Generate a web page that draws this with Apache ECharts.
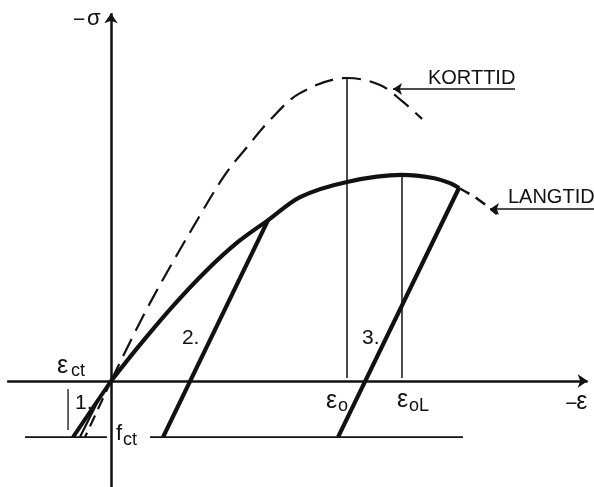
<!DOCTYPE html>
<html>
<head>
<meta charset="utf-8">
<script src="https://cdn.jsdelivr.net/npm/echarts@6/dist/echarts.min.js"></script>
<style>
  html, body { margin: 0; padding: 0; background: #fff; }
  #chart { width: 594px; height: 487px; }
</style>
</head>
<body>
<div id="chart"></div>
<script>
// Concrete stress-strain diagram: short-term (KORTTID) and long-term (LANGTID)
// curves, strain in per mille, stress relative to the short-term peak.

const EPS_O = 2.0;      // strain at short-term peak
const EPS_OL = 2.466;   // strain at long-term peak
const F_CT = -0.185;    // tensile strength level

// short-term curve (dashed)
const shortTension = [[0, 0], [-0.22, -0.185]];
const shortTerm = [[0, 0], [0.33, 0.257], [0.78, 0.564], [0.983, 0.69], [1.153, 0.772],
  [1.347, 0.861], [1.602, 0.95], [2.0, 1.0], [2.28, 0.977], [2.475, 0.921], [2.636, 0.865]];

// long-term curve (solid) and its dashed continuation
const longTerm = [[0, 0], [0.229, 0.112], [0.517, 0.244], [0.797, 0.36], [1.076, 0.459],
  [1.331, 0.531], [1.602, 0.607], [2.0, 0.657], [2.466, 0.68], [2.729, 0.67],
  [2.873, 0.653], [2.949, 0.637]];
const longTail = [[2.949, 0.637], [3.11, 0.60], [3.271, 0.551]];

// unloading branches 1., 2., 3.
const unload1 = [[0, 0], [-0.322, -0.185]];
const unload1b = [[-0.09, -0.05], [-0.263, -0.185]];
const unload2 = [[1.331, 0.531], [0.441, -0.185]];
const unload3 = [[2.949, 0.637], [1.924, -0.185]];

// tensile strength level, drawn in two pieces around its label
const fctLeft = [[-0.729, F_CT], [-0.034, F_CT]];
const fctRight = [[0.331, F_CT], [2.983, F_CT]];

// marker lines
const epsOLine = [[EPS_O, 0.01], [EPS_O, 1.0]];
const epsOLLine = [[EPS_OL, 0.01], [EPS_OL, 0.68]];
const ectLine = [[-0.364, -0.026], [-0.364, -0.162]];

// axes and leader arrows
const xAxisLine = [[-0.88, 0], [4.04, 0]];
const yAxisLine = [[0, -0.35], [0, 1.214]];
const kortLeader = [[3.424, 0.964], [2.39, 0.964]];
const langLeader = [[4.093, 0.568], [3.212, 0.568]];

const INK = '#111';
const FAMILY = '"Liberation Sans", Arial, sans-serif';

function seg(data, width, dash, smooth) {
  return {
    type: 'line', data: data, symbol: 'none', smooth: smooth || false,
    silent: true, animation: false,
    lineStyle: { color: INK, width: width, type: dash ? dash : 'solid', cap: 'butt' }
  };
}

function arrow(data, width, size) {
  return {
    type: 'lines', coordinateSystem: 'cartesian2d', silent: true, animation: false,
    symbol: ['none', 'arrow'], symbolSize: size,
    lineStyle: { color: INK, width: width, opacity: 1 },
    data: [{ coords: data }]
  };
}

// text labels: anchor in chart coordinates, then glyph runs offset from it
const EPS = 25, SUB = 18, TXT = 20, NUM = 21;
const tags = [
  { at: [-0.203, 1.191], parts: [['−', 21, -14, 0], ['σ', 22, 0, -1]] },
  { at: [2.686, 0.997], parts: [['KORTTID', TXT, 0, 0]] },
  { at: [3.364, 0.607], parts: [['LANGTID', TXT, 0, 0]] },
  { at: [-0.322, 0.05], parts: [['ε', EPS, -16, 0], ['ct', SUB, -2, 5]] },
  { at: [-0.254, -0.073], parts: [['1.', NUM, -6, 0]] },
  { at: [0.669, 0.142], parts: [['2.', NUM, -8, 0]] },
  { at: [2.195, 0.142], parts: [['3.', NUM, -8, 0]] },
  { at: [0.042, F_CT], parts: [['f', 22, 0, -3], ['ct', SUB, 7, 3]] },
  { at: [1.822, -0.073], parts: [['ε', EPS, 0, -2], ['o', SUB, 12, 3]] },
  { at: [2.424, -0.073], parts: [['ε', EPS, 0, -3], ['oL', SUB, 12, 3]] },
  { at: [3.85, -0.073], parts: [['−', 21, 0, 1], ['ε', EPS, 11, -1]] }
];

const chart = echarts.init(document.getElementById('chart'), null, { renderer: 'canvas' });
chart.setOption({
  animation: false,
  backgroundColor: '#fff',
  grid: { left: 0, right: 0, top: 0, bottom: 0 },
  xAxis: { type: 'value', min: -111 / 118, max: 483 / 118, show: false },
  yAxis: { type: 'value', min: -106 / 303, max: 381 / 303, show: false },
  series: [
    arrow(xAxisLine, 2.5, 10),
    arrow(yAxisLine, 2.5, 10),
    seg(fctLeft, 1.8),
    seg(fctRight, 1.8),
    seg(epsOLine, 1.5),
    seg(epsOLLine, 1.5),
    seg(ectLine, 1.3),
    seg(shortTension, 2.2, [12, 7]),
    seg(shortTerm, 2.2, [19, 9], 0.35),
    seg(longTerm, 4.2, null, 0.3),
    seg(longTail, 2.5, [12, 7], 0.3),
    seg(unload1, 4),
    seg(unload1b, 2.2),
    seg(unload2, 4.2),
    seg(unload3, 4.2),
    arrow(kortLeader, 1.6, 9),
    arrow(langLeader, 1.6, 9)
  ]
});

const texts = [];
tags.forEach(function (tg) {
  const p = chart.convertToPixel({ gridIndex: 0 }, tg.at);
  tg.parts.forEach(function (pt) {
    texts.push({
      type: 'text', silent: true,
      x: p[0] + pt[2], y: p[1] + pt[3],
      style: {
        text: pt[0],
        font: 'normal ' + pt[1] + 'px ' + FAMILY,
        fontSize: pt[1], fontFamily: FAMILY, fill: INK,
        align: 'left', verticalAlign: 'middle'
      }
    });
  });
});
chart.setOption({ graphic: texts });
</script>
</body>
</html>
